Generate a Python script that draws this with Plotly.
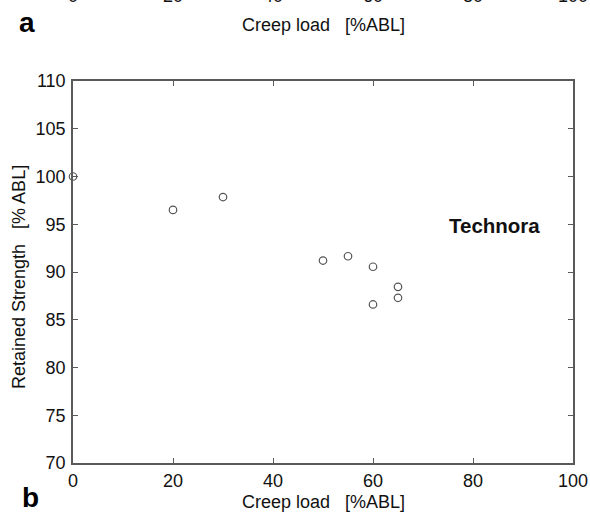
import plotly.graph_objects as go

# Creep-rupture data for Technora: creep load vs. retained strength
creep_load = [0, 20, 30, 50, 55, 60, 60, 65, 65]
retained_strength = [100, 96.5, 97.85, 91.2, 91.65, 90.55, 86.6, 88.45, 87.3]

x_ticks = [0, 20, 40, 60, 80, 100]
y_ticks = [70, 75, 80, 85, 90, 95, 100, 105, 110]

W, H = 590, 513
L, R, T, B = 73, 17, 81, 50
FONT = "Liberation Sans, Arial, sans-serif"
AXIS_COLOR = "#5a5a5a"


def px(x):
    return (x - L) / (W - L - R)


def py(y):
    return (H - B - y) / (H - T - B)


fig = go.Figure()
fig.add_trace(go.Scatter(
    x=creep_load, y=retained_strength, mode="markers",
    marker=dict(symbol="circle-open", size=7.5, color="#555555",
                line=dict(width=1.2, color="#555555")),
    cliponaxis=False, showlegend=False,
))

axis_common = dict(
    showline=True, linecolor=AXIS_COLOR, linewidth=1.5, mirror="ticks",
    ticks="inside", ticklen=5, tickwidth=1, tickcolor=AXIS_COLOR,
    showgrid=False, zeroline=False, automargin=False,
    tickfont=dict(family=FONT, size=18, color="#111111"),
)

fig.update_xaxes(range=[0, 100], tickvals=x_ticks, ticktext=[str(v) for v in x_ticks],
                 ticklabelstandoff=1, **axis_common)
fig.update_yaxes(range=[70, 110], tickvals=y_ticks, ticktext=[str(v) for v in y_ticks],
                 ticklabelstandoff=2, **axis_common)

annotations = [
    dict(text="Technora", x=84.2, y=94.9, xref="x", yref="y",
         font=dict(family=FONT, size=20.5, color="#111111", weight="bold")),
    dict(text="Creep load   [%ABL]", x=px(323), y=py(502), xref="paper", yref="paper",
         font=dict(family=FONT, size=18, color="#111111")),
    dict(text="Retained Strength   [% ABL]", x=px(19), y=py(277), xref="paper", yref="paper",
         textangle=-90, font=dict(family=FONT, size=18, color="#111111")),
    dict(text="b", x=px(30), y=py(497), xref="paper", yref="paper",
         font=dict(family=FONT, size=28, color="#000000", weight="bold")),
    # upper panel remnants: its x axis labels and title
    dict(text="a", x=px(27), y=py(23), xref="paper", yref="paper",
         font=dict(family=FONT, size=28, color="#000000", weight="bold")),
    dict(text="Creep load   [%ABL]", x=px(323), y=py(25), xref="paper", yref="paper",
         font=dict(family=FONT, size=18, color="#111111")),
]
for v in x_ticks:
    annotations.append(dict(text=str(v), x=v, y=py(-4), xref="x", yref="paper",
                            font=dict(family=FONT, size=18, color="#111111")))
for a in annotations:
    a.setdefault("showarrow", False)
    a.setdefault("xanchor", "center")
    a.setdefault("yanchor", "middle")

fig.update_layout(
    width=W, height=H,
    margin=dict(l=L, r=R, t=T, b=B),
    paper_bgcolor="white", plot_bgcolor="white",
    annotations=annotations,
)

fig.write_html("out.html")
